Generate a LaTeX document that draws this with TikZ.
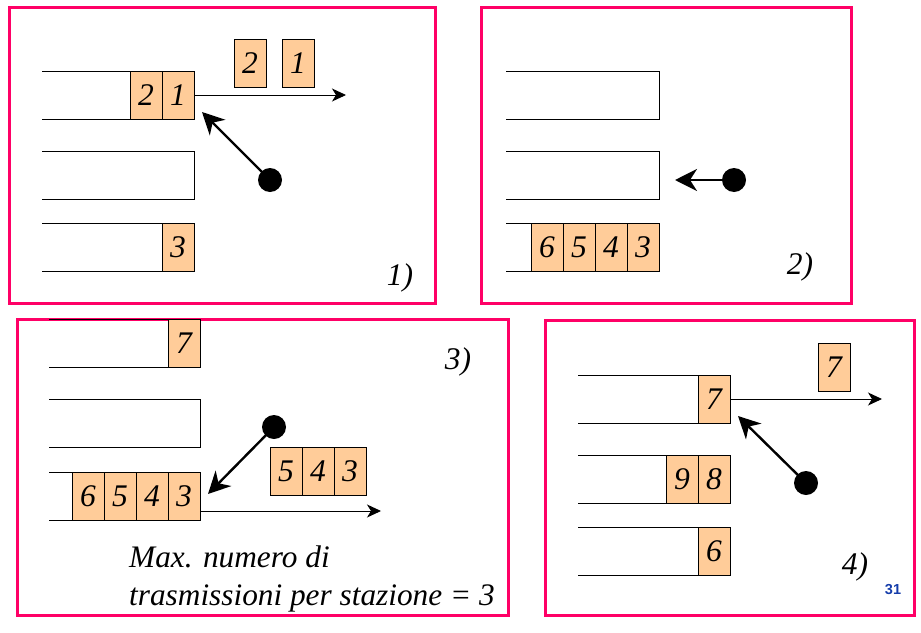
\documentclass[tikz,border=0pt]{standalone}
\usepackage{fontspec}
\setmainfont{Liberation Serif}[ItalicFont={Liberation Serif Italic}]
\newfontfamily\tnrit{Liberation Serif Italic}
\newfontfamily\arialb{Liberation Sans Bold}
\usetikzlibrary{arrows.meta}
\definecolor{framepink}{RGB}{255,0,102}
\definecolor{pktfill}{RGB}{255,204,153}
\definecolor{numblue}{RGB}{20,60,170}
\begin{document}
\begin{tikzpicture}[x=1pt,y=-1pt,
  frame/.style={draw=framepink,line width=3pt},
  rail/.style={draw=black,line width=0.9pt},
  cell/.style={draw=black,fill=pktfill,line width=0.9pt,minimum width=32pt,minimum height=48pt,inner sep=0pt,font=\tnrit\fontsize{31.5}{31.5}\selectfont},
  dotnode/.style={circle,fill=black,minimum size=24pt,inner sep=0pt},
  thickarrow/.style={line width=2.4pt,-{Stealth[length=22pt,width=22pt,inset=7pt]}},
  thinarrow/.style={line width=0.9pt,-{Stealth[length=14pt,width=13pt,inset=4pt]}},
  lbl/.style={font=\tnrit\fontsize{31.5}{31.5}\selectfont,inner sep=0pt},
  bigtext/.style={font=\tnrit\fontsize{31.3}{31.3}\selectfont,inner sep=0pt,anchor=base west}]
\useasboundingbox (0,0) rectangle (921,632);
% ---------- Panel 1 ----------
\draw[frame] (9,7) rectangle (435,303);
\draw[rail] (42,71) -- (194,71) -- (194,119) -- (42,119);
\draw[rail] (42,151) -- (194,151) -- (194,199) -- (42,199);
\draw[rail] (42,223) -- (194,223) -- (194,271) -- (42,271);
\node[cell] (a2) at (146,95) {2};
\node[cell] (a1) at (178,95) {1};
\node[cell] (a3) at (178,247) {3};
\node[cell] (ao2) at (250,63) {2};
\node[cell] (ao1) at (298,63) {1};
\coordinate (aend) at (346,95);
\draw[thinarrow] (a1.east) -- (aend);
\node[dotnode] (ad) at (270,180) {};
\coordinate (atip) at (202,112);
\draw[thickarrow] (ad.center) -- (atip);
\node[lbl] (al) at (400,278) {1)};
% ---------- Panel 2 ----------
\draw[frame] (481,7) rectangle (851,303);
\draw[rail] (506,71) -- (659,71) -- (659,119) -- (506,119);
\draw[rail] (506,151) -- (659,151) -- (659,199) -- (506,199);
\draw[rail] (506,223) -- (659,223) -- (659,271) -- (506,271);
\node[cell] (b6) at (547,247) {6};
\node[cell] (b5) at (579,247) {5};
\node[cell] (b4) at (611,247) {4};
\node[cell] (b3) at (643,247) {3};
\node[dotnode] (bd) at (734,180) {};
\coordinate (btip) at (675,180);
\draw[thickarrow] (bd.center) -- (btip);
\node[lbl] (bl) at (800,267) {2)};
% ---------- Panel 3 ----------
\draw[frame] (17,319) rectangle (508,615);
\draw[rail] (49,319) -- (200,319) -- (200,367) -- (49,367);
\draw[rail] (49,399) -- (200,399) -- (200,447) -- (49,447);
\draw[rail] (49,472) -- (200,472) -- (200,520) -- (49,520);
\node[cell] (c7) at (184,343) {7};
\node[cell] (c6) at (88,496) {6};
\node[cell] (c5) at (120,496) {5};
\node[cell] (c4) at (152,496) {4};
\node[cell] (c3) at (184,496) {3};
\node[cell] (co5) at (286,471) {5};
\node[cell] (co4) at (318,471) {4};
\node[cell] (co3) at (350,471) {3};
\coordinate (cstart) at (200,511);
\coordinate (cend) at (381,511);
\draw[thinarrow] (cstart) -- (cend);
\node[dotnode] (cd) at (274,427) {};
\coordinate (ctip) at (208,494);
\draw[thickarrow] (cd.center) -- (ctip);
\node[lbl] (cl) at (458,362) {3)};
\node[bigtext] (ct1) at (129,567) {Max. numero di};
\node[bigtext] (ct2) at (129,605) {trasmissioni per stazione = 3};
% ---------- Panel 4 ----------
\draw[frame] (545,320) rectangle (914,615);
\draw[rail] (578,375) -- (730,375) -- (730,423) -- (578,423);
\draw[rail] (578,455) -- (730,455) -- (730,503) -- (578,503);
\draw[rail] (578,527) -- (730,527) -- (730,575) -- (578,575);
\node[cell] (d7) at (714,399) {7};
\node[cell] (d9) at (682,479) {9};
\node[cell] (d8) at (714,479) {8};
\node[cell] (d6) at (714,551) {6};
\node[cell] (do7) at (834,367) {7};
\coordinate (dend) at (882,399);
\draw[thinarrow] (d7.east) -- (dend);
\node[dotnode] (dd) at (806,483) {};
\coordinate (dtip) at (738,416);
\draw[thickarrow] (dd.center) -- (dtip);
\node[lbl] (dl) at (855,567) {4)};
\node[font=\arialb\fontsize{14.5}{14.5}\selectfont,text=numblue,inner sep=0pt] (pg) at (893,590) {31};
\end{tikzpicture}
\end{document}
